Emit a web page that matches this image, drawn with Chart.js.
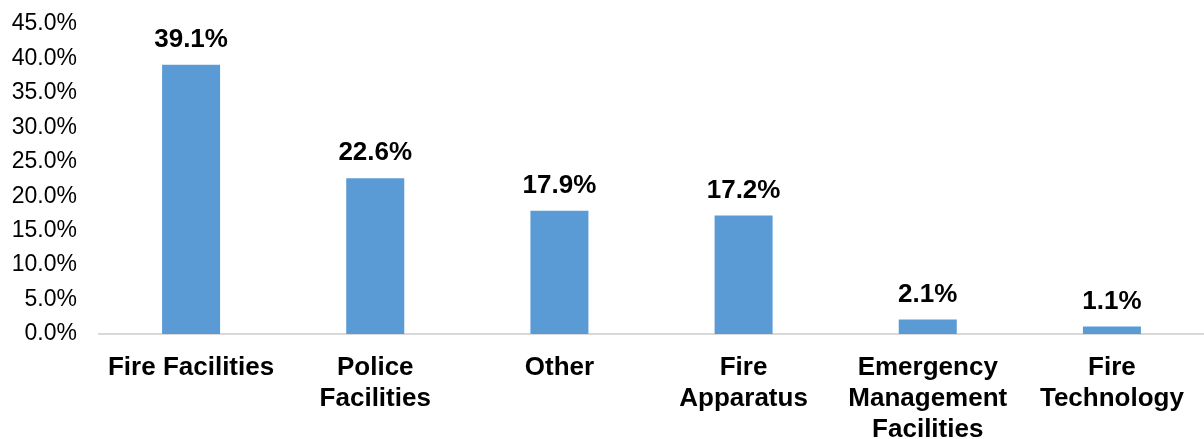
<!DOCTYPE html>
<html><head><meta charset="utf-8">
<script src="https://cdn.jsdelivr.net/npm/chart.js@4"></script>
<style>html,body{margin:0;padding:0;background:#fff}#wrap{width:1204px;height:439px}</style>
</head><body><div id="wrap"><canvas id="c"></canvas></div>
<script>
const categories = [["Fire Facilities"], ["Police","Facilities"], ["Other"], ["Fire","Apparatus"], ["Emergency","Management","Facilities"], ["Fire","Technology"]];
const values = [39.1, 22.6, 17.9, 17.2, 2.1, 1.1];
const yTicks = [0,5,10,15,20,25,30,35,40,45];

const labelPlugin = {
  id: 'labels',
  afterDatasetsDraw(chart) {
    const ctx = chart.ctx;
    const meta = chart.getDatasetMeta(0);
    ctx.save();
    ctx.font = 'bold 26px "Liberation Sans", Arial, sans-serif';
    ctx.fillStyle = '#000';
    ctx.textAlign = 'center';
    ctx.textBaseline = 'middle';
    meta.data.forEach((bar, i) => {
      ctx.fillText(values[i].toFixed(1) + '%', bar.x, bar.y - 25);
    });
    ctx.restore();
  }
};

new Chart(document.getElementById('c'), {
  type: 'bar',
  data: { labels: categories, datasets: [{ data: values, backgroundColor: '#5B9BD5', barPercentage: 0.63, categoryPercentage: 0.5 }] },
  options: {
    responsive: true, maintainAspectRatio: false, animation: false,
    layout: { padding: { top: 24, right: 0, left: 0, bottom: 0 } },
    plugins: { legend: { display: false }, tooltip: { enabled: false } },
    scales: {
      x: {
        grid: { display: false, drawTicks: false },
        border: { display: true, color: '#d9d9d9', width: 2 },
        ticks: { color: '#000', font: { family: '"Liberation Sans", Arial, sans-serif', size: 26, weight: 'bold', lineHeight: 1.2 }, padding: 18, maxRotation: 0, autoSkip: false },
        afterFit(s) { s.height = 105; }
      },
      y: {
        min: 0, max: 45,
        grid: { display: false, drawTicks: false },
        border: { display: false },
        afterBuildTicks(s) { s.ticks = yTicks.map(v => ({ value: v })); },
        ticks: { color: '#000', font: { family: '"Liberation Sans", Arial, sans-serif', size: 23 }, padding: 22, callback: v => v.toFixed(1) + '%' },
        afterFit(s) { s.width = 99; s.paddingTop = 0; s.paddingBottom = 0; }
      }
    }
  },
  plugins: [labelPlugin]
});
</script></body></html>
